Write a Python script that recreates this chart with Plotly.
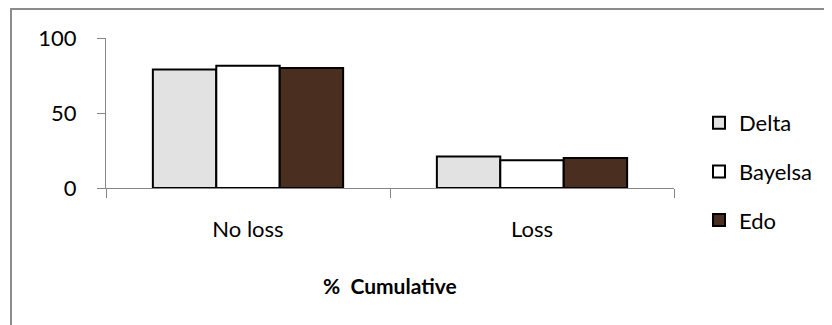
import plotly.graph_objects as go

categories = ["No loss", "Loss"]
delta = [79, 21]
bayelsa = [81.5, 18.5]
edo = [80, 20]
y_ticks = [0, 50, 100]

# page body has an 8px default margin; compensate so positions match the reference
OFF = 8
W, H = 832, 325
L, R, T, B = 106, 158, 38, 137
pw = W - L - R
ph = H - T - B

def px_x(p):
    return (p - L) / pw

def px_y(p):
    return (H - B - p) / ph

font = "Lato"
fs = 22
fig = go.Figure()
series = [("Delta", delta, "#e2e2e2"), ("Bayelsa", bayelsa, "#ffffff"), ("Edo", edo, "#4a2e20")]
for name, vals, col in series:
    fig.add_trace(go.Bar(
        x=categories, y=vals, name=name, legendgroup=name,
        marker=dict(color=col, line=dict(color="#000000", width=2)),
    ))

fig.update_layout(
    width=W - OFF, height=H - OFF,
    margin=dict(l=L - OFF, r=R, t=T - OFF, b=B, autoexpand=False),
    paper_bgcolor="white", plot_bgcolor="white",
    barmode="group", bargap=0.33, bargroupgap=0,
    font=dict(family=font, size=fs, color="#000000"),
    showlegend=True,
    legend=dict(x=px_x(699), y=px_y(102), xanchor="left", yanchor="top",
                traceorder="grouped", tracegroupgap=17,
                font=dict(family=font, size=fs), bgcolor="rgba(0,0,0,0)"),
    xaxis=dict(showline=True, linecolor="#868686", linewidth=1,
               ticks="outside", tickson="boundaries", ticklen=9, tickcolor="#868686",
               showgrid=False, ticklabelstandoff=22,
               tickfont=dict(family=font, size=fs)),
    yaxis=dict(range=[0, 100], tickvals=y_ticks, showline=True, linecolor="#868686",
               linewidth=1, ticks="outside", ticklen=8, tickcolor="#868686",
               showgrid=False, zeroline=False, ticklabelstandoff=16,
               tickfont=dict(family=font, size=fs)),
    annotations=[dict(text="<b>%  Cumulative</b>", x=0.5, y=px_y(285), xref="paper", yref="paper",
                      xanchor="center", yanchor="middle", showarrow=False,
                      font=dict(family=font, size=21))],
    shapes=[dict(type="rect", xref="paper", yref="paper",
                 x0=px_x(11), x1=px_x(831), y0=px_y(340), y1=px_y(9),
                 line=dict(color="#8c8c8c", width=2), fillcolor="rgba(0,0,0,0)", layer="below")],
)

fig.write_html("out.html")
